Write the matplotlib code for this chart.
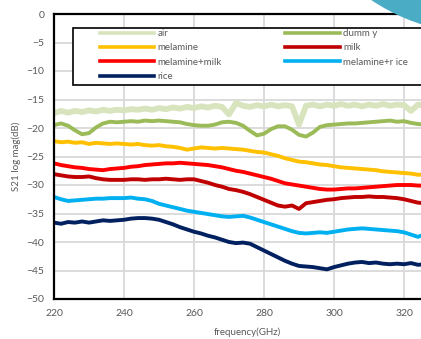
import matplotlib
matplotlib.use("Agg")
import matplotlib.pyplot as plt
from matplotlib.patches import Circle, Rectangle
from matplotlib.lines import Line2D

plt.rcParams['font.family'] = ['Lato', 'DejaVu Sans']

# frequency axis (GHz), 2 GHz steps
freq = list(range(220, 328, 2))

air = [-17.4, -17.0, -17.3, -17.0, -17.2, -16.9, -17.1, -16.8, -17.0, -16.8,
       -16.9, -16.7, -16.8, -16.6, -16.8, -16.5, -16.7, -16.4, -16.6, -16.3,
       -16.5, -16.2, -16.4, -16.1, -16.3, -17.6, -15.6, -16.1, -16.3, -16.0,
       -16.2, -15.9, -16.2, -16.0, -16.2, -19.4, -16.1, -15.9, -16.2, -15.9,
       -16.1, -15.8, -16.1, -15.9, -16.2, -15.9, -16.1, -15.8, -16.1, -15.9,
       -16.0, -17.0, -15.9, -16.1]
dummy = [-19.5, -19.2, -19.6, -20.4, -21.1, -20.9, -19.9, -19.2, -18.9, -19.0,
         -18.9, -18.8, -18.9, -18.7, -18.8, -18.7, -18.8, -18.9, -19.0, -19.3,
         -19.5, -19.6, -19.6, -19.4, -19.0, -18.9, -19.1, -19.6, -20.5, -21.3,
         -21.0, -20.2, -19.7, -19.7, -20.3, -21.2, -21.5, -20.8, -19.8, -19.5,
         -19.4, -19.3, -19.2, -19.2, -19.1, -19.0, -18.9, -18.8, -18.7, -18.9,
         -18.8, -19.1, -19.3, -19.4]
melamine = [-22.3, -22.5, -22.4, -22.6, -22.5, -22.8, -22.6, -22.7, -22.8, -22.7,
            -22.8, -22.9, -22.8, -23.0, -23.1, -23.0, -23.2, -23.3, -23.5, -23.8,
            -23.6, -23.4, -23.5, -23.6, -23.5, -23.6, -23.7, -23.8, -24.0, -24.2,
            -24.3, -24.6, -24.9, -25.3, -25.6, -25.9, -26.0, -26.2, -26.4, -26.5,
            -26.7, -26.9, -27.0, -27.1, -27.2, -27.3, -27.4, -27.6, -27.7, -27.8,
            -27.9, -28.0, -28.2, -28.2]
milk = [-28.1, -28.3, -28.5, -28.6, -28.6, -28.5, -28.8, -29.0, -29.1, -29.1,
        -29.1, -29.0, -29.0, -29.1, -29.0, -29.0, -28.9, -29.0, -29.1, -29.0,
        -29.0, -29.3, -29.6, -30.0, -30.3, -30.7, -30.9, -31.2, -31.6, -32.1,
        -32.6, -33.1, -33.6, -33.8, -33.6, -34.2, -33.2, -33.0, -32.8, -32.6,
        -32.5, -32.3, -32.2, -32.1, -32.1, -32.0, -32.1, -32.1, -32.2, -32.3,
        -32.5, -32.8, -33.1, -33.2]
melamine_milk = [-26.2, -26.5, -26.7, -26.9, -27.0, -27.2, -27.3, -27.4, -27.2, -27.1,
                 -27.0, -26.8, -26.7, -26.5, -26.4, -26.3, -26.2, -26.2, -26.1, -26.2,
                 -26.3, -26.4, -26.5, -26.7, -26.9, -27.2, -27.5, -27.7, -28.0, -28.3,
                 -28.6, -28.9, -29.3, -29.7, -29.9, -30.1, -30.3, -30.5, -30.7, -30.8,
                 -30.8, -30.7, -30.6, -30.6, -30.5, -30.4, -30.3, -30.2, -30.1, -30.0,
                 -30.0, -30.0, -30.1, -30.1]
melamine_rice = [-32.1, -32.5, -32.8, -32.7, -32.6, -32.5, -32.4, -32.4, -32.3, -32.3,
                 -32.3, -32.2, -32.4, -32.5, -32.8, -33.3, -33.6, -33.9, -34.2, -34.5,
                 -34.7, -34.9, -35.1, -35.3, -35.5, -35.6, -35.5, -35.4, -35.7, -36.1,
                 -36.5, -36.9, -37.3, -37.7, -38.1, -38.4, -38.5, -38.4, -38.3, -38.4,
                 -38.2, -38.0, -37.8, -37.7, -37.6, -37.7, -37.8, -37.9, -38.0, -38.1,
                 -38.3, -38.7, -39.1, -38.6]
rice = [-36.6, -36.8, -36.5, -36.6, -36.4, -36.6, -36.4, -36.2, -36.3, -36.2,
        -36.1, -35.9, -35.8, -35.8, -35.9, -36.1, -36.5, -36.9, -37.4, -37.8,
        -38.2, -38.5, -38.9, -39.2, -39.6, -40.0, -40.2, -40.1, -40.3, -40.9,
        -41.5, -42.1, -42.7, -43.3, -43.8, -44.2, -44.3, -44.4, -44.6, -44.8,
        -44.4, -44.1, -43.8, -43.6, -43.5, -43.7, -43.6, -43.8, -43.9, -43.8,
        -43.9, -43.7, -44.0, -43.9]

series = [
    ("air", air, "#D7E4BD", 4.2),
    ("dumm y", dummy, "#9BBB59", 2.8),
    ("melamine", melamine, "#FFC000", 2.8),
    ("milk", milk, "#C00000", 2.8),
    ("melamine+milk", melamine_milk, "#FF0000", 2.8),
    ("melamine+r ice", melamine_rice, "#00B0F0", 2.8),
    ("rice", rice, "#002060", 2.8),
]

fig = plt.figure(figsize=(4.21, 3.39), dpi=100)
W, H = 421, 339
ax = fig.add_axes([54 / W, 1 - 299 / H, 385 / W, 285 / H])

lines = {}
for name, vals, col, lw in series:
    ln, = ax.plot(freq, vals, color=col, lw=lw, solid_joinstyle='round')
    lines[name] = ln

ax.set_xlim(220, 330)
ax.set_ylim(-50, 0)
ax.set_xticks(range(220, 330, 20))
ax.set_yticks(range(-50, 1, 5))
ax.grid(True, color="#D9D9D9", lw=1.3)
ax.set_axisbelow(True)
for s in ["left", "bottom", "top"]:
    ax.spines[s].set_linewidth(1.6)
    ax.spines[s].set_color("black")
ax.spines["right"].set_visible(False)
ax.tick_params(length=0, labelsize=7.5, labelcolor="#595959")
ax.tick_params(axis="y", pad=7)
ax.tick_params(axis="x", pad=7)

ax.set_ylabel("S21 log mag(dB)", fontsize=7, color="#595959", labelpad=4)
fig.text(247 / W, 1 - 332 / H, "frequency(GHz)", fontsize=7, color="#595959",
         ha="center", va="center")

# legend frame
fig.add_artist(Rectangle((0.73, (H - 85) / 100), 4.0, 0.57, transform=fig.dpi_scale_trans,
                         facecolor="white", edgecolor="black", lw=1.2, zorder=2))
order = ["air", "melamine", "melamine+milk", "rice", "dumm y", "milk", "melamine+r ice"]
handles = [Line2D([], [], color=lines[n].get_color(), lw=2.6) for n in order]
leg = fig.legend(handles, order, loc="upper left", bbox_to_anchor=(100 / W, 1 - 29 / H),
                 ncol=2, frameon=False, fontsize=7, handlelength=5.6, handletextpad=0.35,
                 columnspacing=6.5, labelspacing=0.55, borderpad=0, borderaxespad=0)
for t in leg.get_texts():
    t.set_color("#595959")
leg.set_zorder(3)

# decorative circle in the corner
fig.add_artist(Circle((4.83, 5.06), 2.01, transform=fig.dpi_scale_trans,
                      facecolor="#4BACC6", edgecolor="none", zorder=10))

fig.savefig("out.png", dpi=100)
